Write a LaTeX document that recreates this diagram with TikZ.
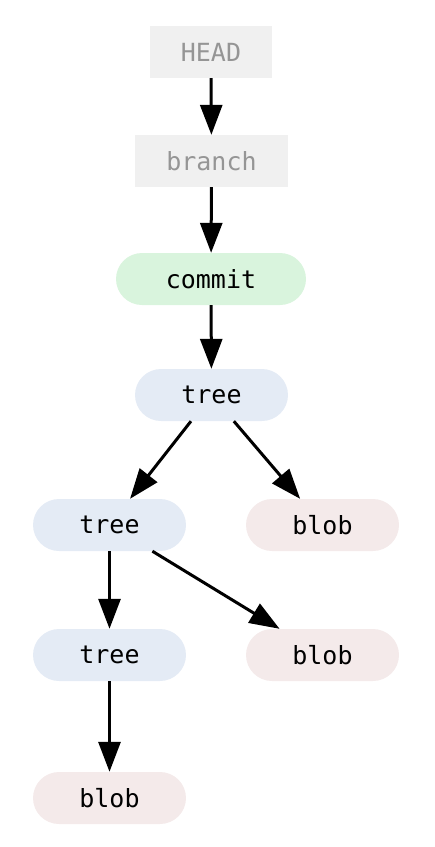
\documentclass[tikz,border=0pt]{standalone}
\usepackage{fontspec}
\setmonofont{DejaVu Sans Mono}
\usetikzlibrary{arrows.meta}
\definecolor{refbg}{HTML}{F0F0F0}
\definecolor{reftext}{HTML}{959595}
\definecolor{commitbg}{HTML}{D9F4DD}
\definecolor{treebg}{HTML}{E4EBF5}
\definecolor{blobbg}{HTML}{F4EAEA}
\tikzset{
  obj/.style={inner sep=0pt, minimum height=52pt, font=\ttfamily\fontsize{25}{25}\selectfont, text=black},
  refbox/.style={obj, fill=refbg, text=reftext},
  commitbox/.style={obj, fill=commitbg, rounded corners=26pt, minimum width=190pt},
  treebox/.style={obj, fill=treebg, rounded corners=26pt, minimum width=153pt},
  blobbox/.style={obj, fill=blobbg, rounded corners=26pt, minimum width=153pt},
  link/.style={line width=3pt, -{Triangle[length=30pt,width=22pt]}},
}
\begin{document}
\begin{tikzpicture}[x=1pt,y=-1pt]
  \useasboundingbox (0,0) rectangle (435,847);
  \node[refbox, minimum width=122pt] (head) at (211,52) {HEAD};
  \node[refbox, minimum width=153pt] (branch) at (211.5,161) {branch};
  \node[commitbox] (commit) at (211,279) {commit};
  \node[treebox] (root) at (211.5,395) {tree};
  \node[treebox] (sub) at (109.5,525) {tree};
  \node[blobbox] (blobA) at (322.5,525) {blob};
  \node[treebox] (subsub) at (109.5,655) {tree};
  \node[blobbox] (blobB) at (322.5,655) {blob};
  \node[blobbox] (blobC) at (109.5,798) {blob};

  \draw[link] (head) -- (branch);
  \draw[link] (branch) -- (commit);
  \draw[link] (commit) -- (root);
  \draw[link] (root) -- (sub);
  \draw[link] (root) -- (blobA);
  \draw[link] (sub) -- (subsub);
  \draw[link] (sub) -- (blobB);
  \draw[link] (subsub) -- (blobC);
\end{tikzpicture}
\end{document}
